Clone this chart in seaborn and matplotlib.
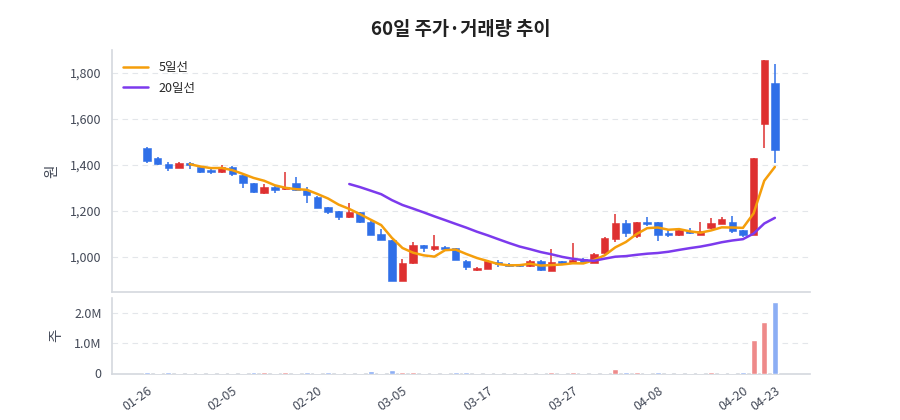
import numpy as np
import pandas as pd
import matplotlib
matplotlib.use("Agg")
import matplotlib.pyplot as plt
import seaborn as sns
from matplotlib.ticker import FuncFormatter

# ---------------- data ----------------
dates = ["01-26", "01-27", "01-28", "01-29", "01-30", "02-02", "02-03", "02-04", "02-05", "02-06",
         "02-09", "02-10", "02-11", "02-12", "02-13", "02-19", "02-20", "02-23", "02-24", "02-25",
         "02-26", "02-27", "03-03", "03-04", "03-05", "03-06", "03-09", "03-10", "03-11", "03-12",
         "03-13", "03-16", "03-17", "03-18", "03-19", "03-20", "03-23", "03-24", "03-25", "03-26",
         "03-27", "03-30", "03-31", "04-01", "04-02", "04-03", "04-06", "04-07", "04-08", "04-09",
         "04-10", "04-13", "04-14", "04-15", "04-16", "04-17", "04-20", "04-21", "04-22", "04-23"]

open_ = [1473, 1432, 1405, 1387, 1408, 1393, 1378, 1368, 1393, 1357,
         1320, 1278, 1306, 1294, 1320, 1290, 1262, 1216, 1200, 1172,
         1194, 1153, 1099, 1074, 897, 973, 1052, 1037, 1045, 1039,
         984, 943, 948, 980, 969, 968, 959, 983, 940, 982,
         975, 992, 976, 1016, 1078, 1148, 1090, 1152, 1152, 1106,
         1094, 1113, 1097, 1125, 1144, 1153, 1117, 1097, 1578, 1755]
high = [1477, 1434, 1413, 1414, 1412, 1395, 1386, 1402, 1395, 1360,
        1322, 1317, 1312, 1371, 1350, 1305, 1264, 1218, 1202, 1233,
        1197, 1155, 1120, 1076, 991, 1066, 1054, 1096, 1049, 1041,
        986, 957, 988, 988, 972, 971, 985, 985, 1036, 984,
        1059, 994, 1017, 1085, 1187, 1160, 1154, 1175, 1154, 1119,
        1118, 1125, 1153, 1170, 1174, 1180, 1119, 1430, 1855, 1839]
low = [1407, 1401, 1372, 1385, 1381, 1366, 1360, 1366, 1352, 1301,
       1279, 1276, 1280, 1293, 1287, 1237, 1212, 1186, 1162, 1170,
       1149, 1094, 1073, 894, 895, 971, 1023, 1025, 1033, 986,
       945, 941, 946, 957, 957, 957, 957, 940, 938, 970,
       973, 978, 974, 1014, 1067, 1086, 1081, 1133, 1068, 1085,
       1092, 1100, 1095, 1123, 1142, 1103, 1086, 1095, 1473, 1407]
close = [1419, 1403, 1387, 1408, 1402, 1368, 1368, 1390, 1361, 1320,
         1281, 1306, 1292, 1306, 1290, 1268, 1215, 1194, 1172, 1197,
         1154, 1096, 1075, 896, 975, 1052, 1039, 1047, 1036, 988,
         956, 952, 981, 970, 960, 960, 983, 942, 980, 973,
         986, 980, 1015, 1083, 1146, 1103, 1152, 1144, 1097, 1097,
         1117, 1104, 1114, 1146, 1164, 1113, 1097, 1429, 1855, 1465]
volume = [55e3, 15e3, 50e3, 20e3, 15e3, 15e3, 15e3, 10e3, 10e3, 20e3,
          50e3, 50e3, 8e3, 60e3, 12e3, 55e3, 10e3, 45e3, 10e3, 20e3,
          20e3, 90e3, 10e3, 115e3, 65e3, 55e3, 10e3, 8e3, 12e3, 50e3,
          50e3, 8e3, 20e3, 20e3, 20e3, 20e3, 8e3, 20e3, 45e3, 8e3,
          45e3, 8e3, 8e3, 20e3, 145e3, 45e3, 45e3, 8e3, 45e3, 8e3,
          8e3, 8e3, 20e3, 45e3, 8e3, 20e3, 45e3, 1.11e6, 1.71e6, 2.38e6]

tick_idx = [0, 8, 16, 24, 32, 40, 48, 56, 59]

# ---------------- style ----------------
sns.set_theme(style="white")
plt.rcParams["font.family"] = ["Noto Sans CJK KR", "DejaVu Sans"]
plt.rcParams["axes.unicode_minus"] = False

RED = "#de3030"
BLUE = "#2f6fe8"
RED_L = "#ee8a8a"
BLUE_L = "#8caef4"
ORANGE = "#f59e0b"
PURPLE = "#7c3aed"
SPINE = "#d4d8de"
GRID = "#e3e6ea"
TXT = "#444a58"

df = pd.DataFrame({"i": np.arange(len(dates)), "date": dates, "open": open_, "high": high,
                   "low": low, "close": close, "volume": volume})
df["up"] = df["close"] >= df["open"]
df["ma5"] = df["close"].rolling(5).mean()
df["ma20"] = df["close"].rolling(20).mean()

fig = plt.figure(figsize=(9, 4.2), dpi=100)
ax = fig.add_axes([112 / 900, 1 - 292 / 420, 698 / 900, 242 / 420])
axv = fig.add_axes([112 / 900, 1 - 373.5 / 420, 698 / 900, 75.5 / 420])

# candles
cols = np.where(df["up"], RED, BLUE)
ax.vlines(df["i"], df["low"], df["high"], colors=cols, linewidth=1.1, zorder=2)
body_lo = np.minimum(df["open"], df["close"])
body_h = np.maximum(np.abs(df["close"] - df["open"]), 3)
ax.bar(df["i"], body_h, bottom=body_lo, width=0.7, color=cols, edgecolor=cols,
       linewidth=0.4, zorder=3)

sns.lineplot(data=df, x="i", y="ma5", ax=ax, color=ORANGE, linewidth=1.8,
             label="5일선", zorder=4)
sns.lineplot(data=df, x="i", y="ma20", ax=ax, color=PURPLE, linewidth=1.8,
             label="20일선", zorder=4)

ax.set_xlim(-3.3, 62.3)
ax.set_ylim(848, 1900)
ax.set_yticks([1000, 1200, 1400, 1600, 1800])
ax.yaxis.set_major_formatter(FuncFormatter(lambda v, p: f"{int(v):,}"))
ax.set_xticks(tick_idx)
ax.set_xticklabels([])
ax.set_xlabel("")
ax.set_ylabel("원", fontsize=10.5, color=TXT, labelpad=8)
ax.set_title("60일 주가·거래량 추이", fontsize=13.5, fontweight="bold", color="#222222", pad=11)
ax.legend(loc="upper left", frameon=False, fontsize=9, handlelength=2.0,
          borderaxespad=0.5, labelspacing=0.6)

# volume
vcols = np.where(df["up"], RED_L, BLUE_L)
axv.bar(df["i"], df["volume"], width=0.56, color=vcols, zorder=3)
axv.set_xlim(-3.3, 62.3)
axv.set_ylim(0, 2.5e6)
axv.set_yticks([0, 1e6, 2e6])
axv.yaxis.set_major_formatter(FuncFormatter(lambda v, p: "0" if v == 0 else f"{v / 1e6:.1f}M"))
axv.set_xticks(tick_idx)
axv.set_xticklabels([dates[k] for k in tick_idx], rotation=35, ha="right",
                    rotation_mode="anchor")
axv.set_ylabel("주", fontsize=10.5, color=TXT, labelpad=8)

for a in (ax, axv):
    a.grid(axis="y", color=GRID, linestyle=(0, (5, 4)), linewidth=0.8)
    a.set_axisbelow(True)
    for s in ("top", "right"):
        a.spines[s].set_visible(False)
    for s in ("left", "bottom"):
        a.spines[s].set_color(SPINE)
        a.spines[s].set_linewidth(1.2)
    a.tick_params(axis="both", colors=TXT, labelsize=9, length=4, width=1,
                  color="#555b66")
    a.tick_params(axis="y", color=SPINE)

fig.savefig("out.png", dpi=100)
